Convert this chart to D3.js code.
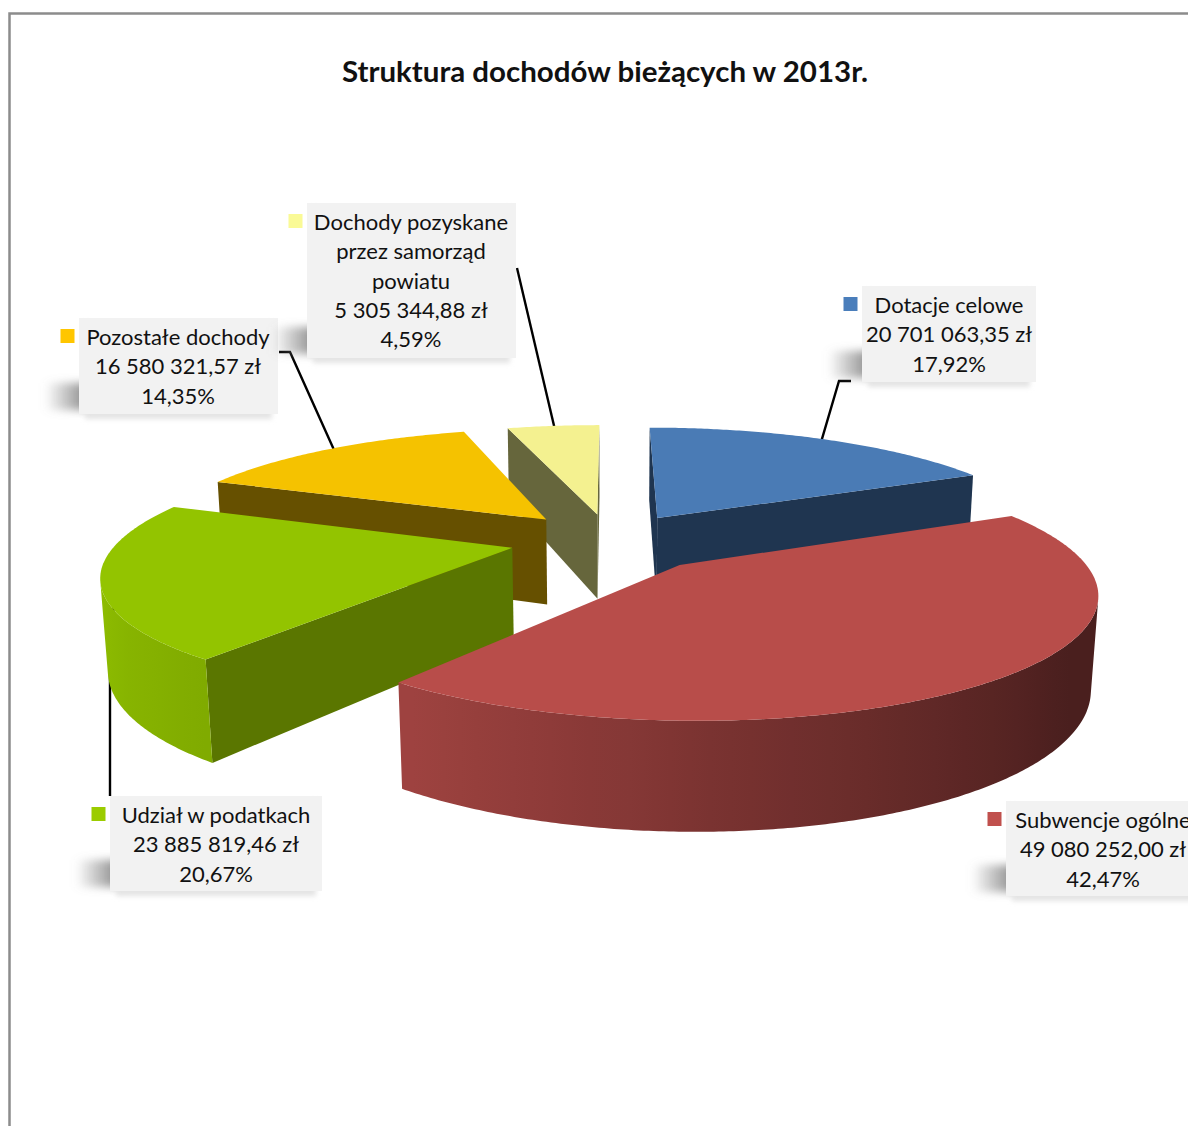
<!DOCTYPE html>
<html lang="pl">
<head>
  <meta charset="UTF-8">
  <title>Struktura dochodów bieżących w 2013r.</title>
  <script src="https://d3js.org/d3.v7.min.js"></script>
  <style>
    html, body { margin: 0; background: #fff; overflow: hidden; }
    svg { display: block; }
    text { font-family: Lato, "Open Sans", sans-serif; fill: #111; }
    .title { font-size: 29px; font-weight: 700; text-anchor: middle; }
    .label { font-size: 22px; text-anchor: middle; dominant-baseline: central; }
    .leader { fill: none; stroke: #000; stroke-width: 2.4px; }
  </style>
</head>
<body>
<svg width="1188" height="1126"></svg>

<script>
  // data
  const title = "Struktura dochodów bieżących w 2013r.";
  const categories = ["Dotacje celowe", "Subwencje ogólne", "Udział w podatkach", "Pozostałe dochody", "Dochody pozyskane przez samorząd powiatu"];
  const amounts = [20701063.35, 49080252.00, 23885819.46, 16580321.57, 5305344.88];
  const percents = [17.92, 42.47, 20.67, 14.35, 4.59];

  // styles
  const topColors = ["#4a7bb5", "#b84d4a", "#93c400", "#f5c200", "#f4f190"];
  const wallColors = ["#1f3550", "#6e2c2a", "#5a7600", "#665000", "#66663c"];
  const swatchColors = ["#4a7ebb", "#c0504d", "#9bcc00", "#ffc600", "#fafa96"];

  // label boxes: [x, y, width, height]
  const labelBoxes = [
    [862, 286, 174, 96],
    [1006, 801, 195, 95],
    [110, 796, 212, 95],
    [79, 318, 199, 96],
    [307, 203, 209, 155]
  ];
  const labelLines = [
    ["Dotacje celowe"],
    ["Subwencje ogólne"],
    ["Udział w podatkach"],
    ["Pozostałe dochody"],
    ["Dochody pozyskane", "przez samorząd", "powiatu"]
  ];
  const textCentre = [949, 1103, 216, 178, 411];
  // leader line waypoints from the box to the slice, red has none
  const leaders = [
    [[851, 381], [839, 381]],
    null,
    [[110, 796], [110, 640]],
    [[279, 352], [290, 352]],
    [[517, 268]]
  ];

  const svg = d3.select("svg");
  const defs = svg.append("defs");
  defs.append("filter").attr("id", "soft").attr("x", "-40%").attr("y", "-40%").attr("width", "180%").attr("height", "180%")
    .append("feGaussianBlur").attr("stdDeviation", 4);
  defs.append("filter").attr("id", "softer").attr("x", "-20%").attr("y", "-20%").attr("width", "140%").attr("height", "140%")
    .append("feGaussianBlur").attr("stdDeviation", 2.5);
  const smudge = defs.append("linearGradient").attr("id", "smudge");
  smudge.append("stop").attr("offset", 0).attr("stop-color", "#808080").attr("stop-opacity", 0);
  smudge.append("stop").attr("offset", 1).attr("stop-color", "#808080").attr("stop-opacity", 1);

  // frame
  svg.append("path").attr("d", "M9.5,1126V13.5H1188").attr("fill", "none").attr("stroke", "#8c8c8c").attr("stroke-width", 2.5);

  svg.append("text").attr("class", "title").attr("x", 605).attr("y", 82)
    .attr("textLength", 526).attr("lengthAdjust", "spacingAndGlyphs").text(title);

  // 3d camera, every slice has its own pull-out and radius
  const cx = 610, cy = 540, depth = 93;
  const radii = [398, 390, 394, 398, 398];
  const pulls = [92, 106, 100, 98, 92];
  const elevation = 17 * Math.PI / 180, dist = 1912;

  function project(x, y, z) {
    const yc = y * Math.sin(elevation) - z * Math.cos(elevation);
    const zc = dist - y * Math.cos(elevation) - z * Math.sin(elevation);
    const s = dist / zc;
    return [cx + x * s, cy + yc * s];
  }

  const slices = d3.pie().sort(null).value(d => d)(amounts);
  const line = d3.line();
  const midAngle = s => (s.startAngle + s.endAngle) / 2;
  const degrees = a => a * 180 / Math.PI;
  // how dark the round wall is, by pie angle
  const shade = d3.scaleLinear().domain([100, 125, 145, 178, 187, 217, 265]).range([0.4, 0.4, 0.49, 0.66, 0.72, 0.87, 1]).clamp(true);

  const centre = (s, i) => [pulls[i] * Math.sin(midAngle(s)), -pulls[i] * Math.cos(midAngle(s))];
  const rim = (s, i, a, inset = 0) => {
    const c = centre(s, i);
    return [c[0] + (radii[i] - inset) * Math.sin(a), c[1] - (radii[i] - inset) * Math.cos(a)];
  };

  // leaders go behind the pie and end just inside the rim at the slice middle
  slices.forEach((s, i) => {
    if (!leaders[i]) return;
    const end = project(...rim(s, i, midAngle(s), 15), 0);
    svg.append("path").attr("class", "leader").attr("d", line([...leaders[i], end]));
  });

  // back to front
  const order = d3.range(slices.length).sort((a, b) => Math.cos(midAngle(slices[b])) - Math.cos(midAngle(slices[a])));

  order.forEach(i => {
    const s = slices[i];
    const g = svg.append("g");
    const c = centre(s, i);
    const angles = d3.range(s.startAngle, s.endAngle, 0.01).concat(s.endAngle);
    const ring = angles.map(a => rim(s, i, a));
    const toBlack = d3.interpolateRgb("#000", topColors[i]);
    const faces = (p, q) => d3.polygonArea([project(...p, 0), project(...q, 0), project(...q, -depth), project(...p, -depth)]) > 0;
    const wall = (p, q, col) => {
      if (!faces(p, q)) return;
      g.append("path").attr("fill", col)
        .attr("d", line([project(...p, 0), project(...q, 0), project(...q, -depth), project(...p, -depth)]) + "Z");
    };

    // flat walls
    wall(c, ring[0], wallColors[i]);
    wall(ring[ring.length - 1], c, wallColors[i]);

    // round wall as one shape, shaded across x
    const visible = d3.range(ring.length - 1).filter(k => faces(ring[k], ring[k + 1]));
    if (visible.length) {
      const idx = [...visible, visible[visible.length - 1] + 1];
      const tops = idx.map(k => project(...ring[k], 0));
      const bottoms = idx.map(k => project(...ring[k], -depth));
      const xs = d3.extent(tops.concat(bottoms), p => p[0]);
      const toOffset = d3.scaleLinear().domain(xs).range([0, 1]);
      const grad = defs.append("linearGradient").attr("id", `wall${i}`).attr("gradientUnits", "userSpaceOnUse")
        .attr("x1", xs[0]).attr("x2", xs[1]).attr("y1", 0).attr("y2", 0);
      const stops = idx.filter((k, n) => n % 8 === 0).map(k => ({ x: project(...ring[k], 0)[0], col: toBlack(shade(degrees(angles[k]))) }))
        .sort((a, b) => a.x - b.x);
      stops.forEach(st => grad.append("stop").attr("offset", toOffset(st.x)).attr("stop-color", st.col));
      g.append("path").attr("d", line([...tops, ...bottoms.reverse()]) + "Z").attr("fill", `url(#wall${i})`);
    }

    g.append("path").attr("d", line([c, ...ring].map(p => project(...p, 0))) + "Z").attr("fill", topColors[i]);
  });

  // labels
  const pl = d3.formatLocale({ decimal: ",", thousands: " ", grouping: [3], currency: ["", " zł"] });
  const money = pl.format(",.2f");
  const pct = pl.format(".2f");

  categories.forEach((name, i) => {
    const [x, y, w, h] = labelBoxes[i];
    const g = svg.append("g");
    // smudge of the shadow left of the box, and the soft one under it
    g.append("rect").attr("x", x - 34).attr("y", y + h - 31).attr("width", 46).attr("height", 27)
      .attr("fill", "url(#smudge)").attr("filter", "url(#soft)");
    g.append("rect").attr("x", x + 6).attr("y", y + 5).attr("width", w - 12).attr("height", h)
      .attr("fill", "#e4e4e4").attr("filter", "url(#softer)");
    g.append("rect").attr("x", x).attr("y", y).attr("width", w).attr("height", h).attr("fill", "#f2f2f2");

    const lines = [...labelLines[i], `${money(amounts[i])} zł`, `${pct(percents[i])}%`];
    const step = 29.3, first = y + 18.5;
    lines.forEach((t, k) => {
      g.append("text").attr("class", "label").attr("x", textCentre[i]).attr("y", first + k * step).text(t);
    });
    g.append("rect").attr("x", x - 18.5).attr("y", y + 11).attr("width", 14).attr("height", 14).attr("fill", swatchColors[i]);
  });
</script>
</body>
</html>
